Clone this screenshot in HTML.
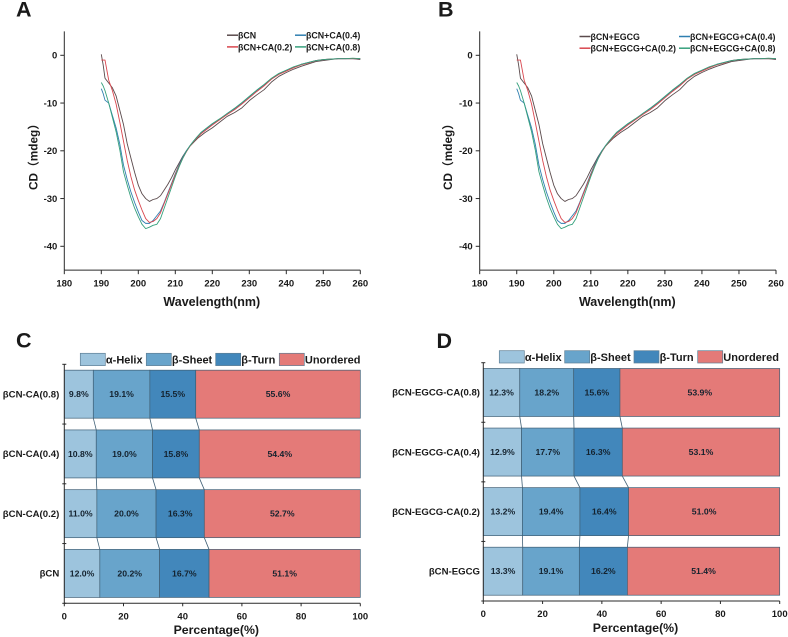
<!DOCTYPE html>
<html>
<head>
<meta charset="utf-8">
<style>
html,body{margin:0;padding:0;background:#fff;}
svg{display:block;filter:blur(0.3px);}
text{font-family:"Liberation Sans","Noto Sans CJK SC",sans-serif;font-weight:bold;fill:#1a1a1a;}
</style>
</head>
<body>
<svg id="fig" xmlns="http://www.w3.org/2000/svg" width="788" height="637" viewBox="0 0 788 637"></svg>
<script>
// CD spectra data (panels A and B show the same traces)
const wavelengths = [190,190.5,191,192,193,194,195,196,197,198,199,200,201,202,203,204,205,206,207,208,209,210,211,212,213,214,215,216,217,218,220,222,224,226,228,230,232,234,236,238,240,242,244,246,248,250,252,254,256,258,260];
const cdBase = [0.2,-2,-4.8,-5.8,-6.8,-8.5,-11.5,-14.5,-18.5,-21.5,-24.5,-27.2,-29,-30,-30.6,-30.2,-30,-29.4,-28.2,-27,-25.6,-24,-22.6,-21.2,-20,-19,-18.2,-17.4,-16.8,-16.2,-15.2,-14,-12.8,-12,-11,-9.5,-8.3,-7.2,-5.6,-4.4,-3.6,-2.9,-2.3,-1.8,-1.3,-1.1,-0.9,-0.7,-0.7,-0.7,-0.9];
const cdCa02 = [-1,-1,-1,-5.2,-7.4,-10.2,-14,-18,-22,-25.4,-28.2,-30.4,-32.4,-34.2,-35,-34.8,-34.2,-33,-31,-29,-27,-25,-23.2,-21.6,-20.2,-19,-18,-17.2,-16.4,-15.8,-14.6,-13.5,-12.4,-11.4,-10.2,-8.9,-7.6,-6.4,-5,-4,-3.3,-2.6,-2,-1.6,-1.1,-0.9,-0.8,-0.7,-0.7,-0.7,-0.7];
const cdCa04 = [-7,-8,-9.4,-10,-12.6,-15.2,-18.6,-23,-26,-28.6,-30.8,-32.8,-34.6,-35.2,-35.2,-34.6,-33.6,-32.6,-30.8,-28.8,-26.8,-24.8,-23,-21.4,-20,-18.9,-17.9,-17,-16.2,-15.6,-14.4,-13.4,-12.2,-11.2,-10,-8.7,-7.4,-6.2,-4.9,-3.9,-3.2,-2.5,-1.9,-1.5,-1.1,-0.9,-0.8,-0.7,-0.7,-0.7,-0.7];
const cdCa08 = [-5.7,-6.4,-7.4,-10,-13,-16,-19.8,-24.4,-27.2,-29.8,-32,-33.8,-35.4,-36.3,-36,-35.6,-35.4,-34.2,-32,-29.8,-27.6,-25.4,-23.4,-21.6,-20.1,-18.9,-17.9,-17,-16.1,-15.5,-14.3,-13.3,-12.2,-11.1,-9.9,-8.6,-7.3,-6.1,-4.8,-3.8,-3.1,-2.4,-1.9,-1.5,-1.1,-0.9,-0.8,-0.7,-0.7,-0.6,-0.7];
const xTicks = [180,190,200,210,220,230,240,250,260];
const yTicks = [0,-10,-20,-30,-40];
const legendA = ["βCN","βCN+CA(0.2)","βCN+CA(0.4)","βCN+CA(0.8)"];
const legendB = ["βCN+EGCG","βCN+EGCG+CA(0.2)","βCN+EGCG+CA(0.4)","βCN+EGCG+CA(0.8)"];
// Secondary structure data (top row to bottom row)
const structureNames = ["α-Helix","β-Sheet","β-Turn","Unordered"];
const categoriesC = ["βCN-CA(0.8)","βCN-CA(0.4)","βCN-CA(0.2)","βCN"];
const helixC = [9.8,10.8,11.0,12.0];
const sheetC = [19.1,19.0,20.0,20.2];
const turnC = [15.5,15.8,16.3,16.7];
const unorderedC = [55.6,54.4,52.7,51.1];
const categoriesD = ["βCN-EGCG-CA(0.8)","βCN-EGCG-CA(0.4)","βCN-EGCG-CA(0.2)","βCN-EGCG"];
const helixD = [12.3,12.9,13.2,13.3];
const sheetD = [18.2,17.7,19.4,19.1];
const turnD = [15.6,16.3,16.4,16.2];
const unorderedD = [53.9,53.1,51.0,51.4];
const pctTicks = [0,20,40,60,80,100];

const NS = 'http://www.w3.org/2000/svg';
const fig = document.getElementById('fig');
const AXIS = '#2a2a2a';
const lineColors = ['#5a4a4c','#d9464e','#2f7fb0','#35a07c'];
const barColors = ['#9dc4dd','#68a4cb','#4287bb','#e47a78'];
const BAR_EDGE = '#3f5f75';

function mk(tag, attrs, parent, name, text) {
  const el = document.createElementNS(NS, tag);
  for (const k in attrs) el.setAttribute(k, attrs[k]);
  
  
  if (text !== undefined) el.textContent = text;
  (parent || fig).appendChild(el);
  return el;
}

function panelLetter(letter, x, y) {
  mk('text', {x:x, y:y, 'font-size':21.5}, fig, 'panel-label-' + letter.toLowerCase(), letter);
}

function drawCD(key, x0, x1, titleX, names, legendCols, legendTextY) {
  const g = mk('g', {}, fig, 'cd-chart-' + key);
  const sx = v => x0 + (v - 180) * (x1 - x0) / 80;
  const sy = v => 55.3 - v * 4.775;
  mk('line', {x1:x0, x2:x0, y1:sy(5), y2:sy(-45), stroke:AXIS, 'stroke-width':1}, g, 'y-axis');
  mk('line', {x1:x0, x2:x1, y1:sy(-45), y2:sy(-45), stroke:AXIS, 'stroke-width':1}, g, 'x-axis');
  xTicks.forEach(t => {
    mk('line', {x1:sx(t), x2:sx(t), y1:sy(-45), y2:sy(-45)+4, stroke:AXIS, 'stroke-width':1}, g, 'x-tick');
    mk('text', {x:sx(t), y:286.5, 'font-size':9.5, 'text-anchor':'middle'}, g, 'x-tick-label', t);
  });
  yTicks.forEach(t => {
    mk('line', {x1:x0-4, x2:x0, y1:sy(t), y2:sy(t), stroke:AXIS, 'stroke-width':1}, g, 'y-tick');
    mk('text', {x:x0-7, y:sy(t)+3.4, 'font-size':9.5, 'text-anchor':'end'}, g, 'y-tick-label', t);
  });
  mk('text', {x:(x0+x1)/2-0.5, y:306, 'font-size':12.5, 'text-anchor':'middle'}, g, 'x-axis-title', 'Wavelength(nm)');
  mk('text', {x:0, y:0, 'font-size':11.8, 'text-anchor':'middle', transform:'translate(' + titleX + ',154) rotate(-90)'}, g, 'y-axis-title', 'CD（mdeg）');
  const all = [cdBase, cdCa02, cdCa04, cdCa08];
  [0,2,1,3].forEach(i => {
    const pts = wavelengths.map((w, j) => sx(w).toFixed(2) + ',' + sy(all[i][j]).toFixed(2)).join(' ');
    mk('polyline', {points:pts, fill:'none', stroke:lineColors[i], 'stroke-width':0.9, 'stroke-linejoin':'round'}, g, 'series-' + i);
  });
  const rows = [legendTextY, legendTextY + 11.7];
  names.forEach((n, i) => {
    const col = i < 2 ? 0 : 1;
    const ly = rows[i % 2];
    const lx = legendCols[col];
    mk('line', {x1:lx, x2:lx+11, y1:ly-0.5, y2:ly-0.5, stroke:lineColors[i], 'stroke-width':1.5}, g, 'legend-line');
    mk('text', {x:lx+11, y:ly+3, 'font-size':8.85}, g, 'legend-entry', n);
  });
}

function drawBars(key, x0, x1, top, bottom, rows, cats, labelRight, legendY, legendXs, titleY) {
  const g = mk('g', {}, fig, 'bar-chart-' + key);
  const sx = v => x0 + v * (x1 - x0) / 100;
  const band = (bottom - top) / cats.length;
  const barH = 48;
  const rowTop = i => top + band * i + (band - barH) / 2;
  // connectors
  for (let i = 0; i < cats.length - 1; i++) {
    let a = 0, b = 0;
    for (let s = 0; s < 3; s++) {
      a += rows[s][i]; b += rows[s][i+1];
      mk('line', {x1:sx(a), x2:sx(b), y1:rowTop(i)+barH, y2:rowTop(i+1), stroke:BAR_EDGE, 'stroke-width':0.8}, g, 'stack-connector');
    }
  }
  cats.forEach((c, i) => {
    let acc = 0;
    rows.forEach((r, s) => {
      const v = r[i];
      mk('rect', {x:sx(acc), y:rowTop(i), width:sx(v)-sx(0), height:barH, fill:barColors[s], stroke:BAR_EDGE, 'stroke-width':0.7}, g, 'bar-' + structureNames[s].toLowerCase());
      mk('text', {x:sx(acc+v/2), y:rowTop(i)+barH/2+3, 'font-size':8.7, 'text-anchor':'middle', style:'fill:#14222e'}, g, 'bar-value', v.toFixed(1) + '%');
      acc += v;
    });
    mk('text', {x:labelRight, y:rowTop(i)+barH/2+3.2, 'font-size':9.6, 'text-anchor':'end'}, g, 'category-label', c);
  });
  mk('line', {x1:x0, x2:x0, y1:top, y2:bottom, stroke:AXIS, 'stroke-width':1}, g, 'y-axis');
  mk('line', {x1:x0, x2:x1, y1:bottom, y2:bottom, stroke:AXIS, 'stroke-width':1}, g, 'x-axis');
  for (let i = 0; i <= cats.length; i++) {
    const y = top + band * i;
    mk('line', {x1:x0-2, x2:x0+2, y1:y, y2:y, stroke:AXIS, 'stroke-width':1}, g, 'y-tick');
  }
  pctTicks.forEach(t => {
    mk('line', {x1:sx(t), x2:sx(t), y1:bottom, y2:bottom+3, stroke:AXIS, 'stroke-width':1}, g, 'x-tick');
    mk('text', {x:sx(t), y:bottom+16, 'font-size':9.5, 'text-anchor':'middle'}, g, 'x-tick-label', t);
  });
  mk('text', {x:(x0+x1)/2+4, y:titleY, 'font-size':12.3, 'text-anchor':'middle'}, g, 'x-axis-title', 'Percentage(%)');
  structureNames.forEach((n, i) => {
    mk('rect', {x:legendXs[i], y:legendY, width:25, height:12.3, fill:barColors[i], stroke:'#5f7f95', 'stroke-width':0.7}, g, 'legend-swatch');
    mk('text', {x:legendXs[i]+25.6, y:legendY+10.2, 'font-size':11}, g, 'legend-entry', n);
  });
}

panelLetter('A', 16, 16.7);
panelLetter('B', 438, 16.7);
panelLetter('C', 16, 347.7);
panelLetter('D', 436.5, 348);
drawCD('a', 64.3, 360.3, 37.5, legendA, [227, 295], 35.7);
drawCD('b', 479.7, 776, 452, legendB, [579.5, 679], 37);
drawBars('c', 64.3, 360.3, 364.3, 603.3, [helixC, sheetC, turnC, unorderedC], categoriesC, 59.3, 353.3, [80.3, 146.3, 215.7, 279.3], 634);
drawBars('d', 483.3, 779.7, 362.7, 601, [helixD, sheetD, turnD, unorderedD], categoriesD, 480, 350.7, [499.3, 564.7, 634, 697.7], 632);
</script>
</body>
</html>
